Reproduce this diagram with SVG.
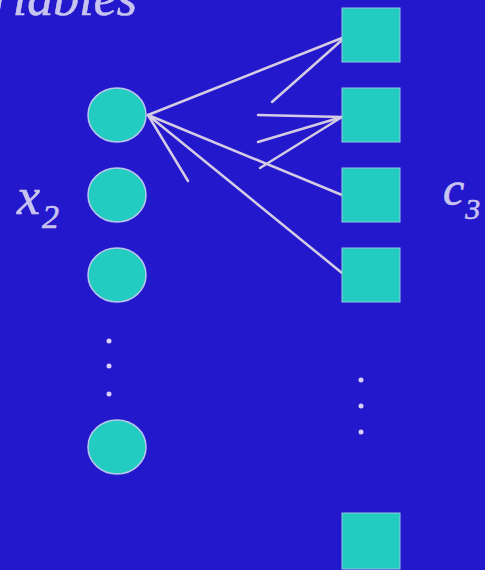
<svg xmlns="http://www.w3.org/2000/svg" width="485" height="570" viewBox="0 0 485 570">
<defs>
<style>
.bg{fill:#2418CC}
.var{fill:#22CCC0;stroke:#B8C8EC;stroke-width:1.5}
.chk{fill:#22CCC0;stroke:#90C8E0;stroke-width:1}
.dot{fill:#D8D0F8}
.edge{stroke:#D4CCE4;stroke-width:2.5;fill:none;stroke-linecap:round}
.lbl{font-family:"Liberation Serif","Times New Roman",serif;font-style:italic;fill:#C8C4F0;stroke:#C8C4F0;stroke-width:0.6}
</style>
</defs>
<rect class="bg" x="0" y="0" width="485" height="570"/>
<text class="lbl" x="137" y="15" font-size="52" text-anchor="end">Variables</text>
<text class="lbl" x="17" y="214" font-size="52">x<tspan font-size="34" dx="2" dy="14">2</tspan></text>
<text class="lbl" x="443" y="205" font-size="48">c<tspan font-size="30" dx="1" dy="14">3</tspan></text>
<g id="connectors">
<line class="edge" x1="148" y1="115" x2="342" y2="38"/>
<line class="edge" x1="342" y1="40" x2="272" y2="102"/>
<line class="edge" x1="342" y1="117" x2="258" y2="115"/>
<line class="edge" x1="342" y1="117" x2="258" y2="142"/>
<line class="edge" x1="342" y1="117" x2="260" y2="168"/>
<line class="edge" x1="148" y1="115" x2="342" y2="195"/>
<line class="edge" x1="148" y1="115" x2="342" y2="273"/>
<line class="edge" x1="148" y1="115" x2="188" y2="181"/>
</g>
<g id="x1"><ellipse class="var" cx="117" cy="115" rx="29" ry="27"/></g>
<g id="x2"><ellipse class="var" cx="117" cy="195" rx="29" ry="27"/></g>
<g id="x3"><ellipse class="var" cx="117" cy="275" rx="29" ry="27"/></g>
<g id="xdots"><circle class="dot" cx="109" cy="341" r="2.5"/><circle class="dot" cx="109" cy="366" r="2.5"/><circle class="dot" cx="109" cy="394" r="2.5"/></g>
<g id="xn"><ellipse class="var" cx="117" cy="447" rx="29" ry="27"/></g>
<g id="c1"><rect class="chk" x="342" y="8" width="58" height="54"/></g>
<g id="c2"><rect class="chk" x="342" y="88" width="58" height="54"/></g>
<g id="c3"><rect class="chk" x="342" y="168" width="58" height="54"/></g>
<g id="c4"><rect class="chk" x="342" y="248" width="58" height="54"/></g>
<g id="cdots"><circle class="dot" cx="361" cy="380" r="2.5"/><circle class="dot" cx="361" cy="406" r="2.5"/><circle class="dot" cx="361" cy="432" r="2.5"/></g>
<g id="cm"><rect class="chk" x="342" y="513" width="58" height="56"/></g>
</svg>
